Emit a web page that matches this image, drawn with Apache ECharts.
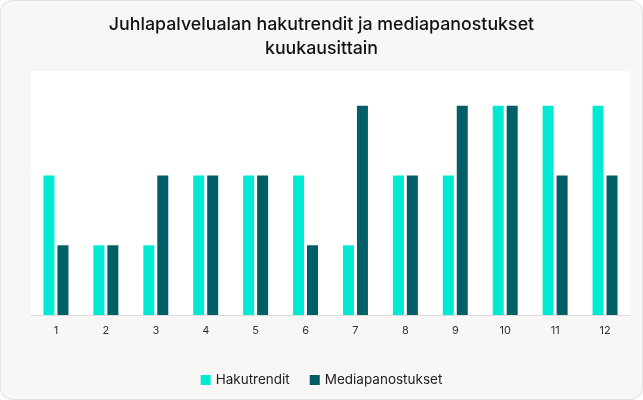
<!DOCTYPE html>
<html>
<head>
<meta charset="utf-8">
<script src="https://cdn.jsdelivr.net/npm/echarts@6/dist/echarts.min.js"></script>
<style>
  html, body { margin: 0; padding: 0; background: #fff; }
  #card {
    position: absolute; left: 0; top: 0;
    width: 641px; height: 398px;
    border: 1px solid #e2e2e0; border-radius: 12px;
    background: #f8f7f5; overflow: hidden;
  }
  #chart { width: 641px; height: 398px; }
</style>
</head>
<body>
<div id="card"><div id="chart"></div></div>
<script>
// kuukaudet ja sarjat
const months = ['1', '2', '3', '4', '5', '6', '7', '8', '9', '10', '11', '12'];
const hakutrendit = [2, 1, 1, 2, 2, 2, 1, 2, 2, 3, 3, 3];
const mediapanostukset = [1, 1, 2, 2, 2, 1, 3, 2, 3, 3, 2, 2];

const chart = echarts.init(document.getElementById('chart'), null, { renderer: 'canvas' });
chart.setOption({
  animation: false,
  textStyle: { fontFamily: 'Inter, sans-serif' },
  title: {
    text: 'Juhlapalvelualan hakutrendit ja mediapanostukset\nkuukausittain',
    left: 'center',
    top: 7,
    textStyle: { fontSize: 17.8, fontWeight: 500, color: '#111', lineHeight: 24 }
  },
  legend: {
    data: ['Hakutrendit', 'Mediapanostukset'],
    bottom: 7,
    left: 'center',
    itemWidth: 10,
    itemHeight: 10,
    itemGap: 20,
    icon: 'rect',
    textStyle: { fontSize: 13.5, color: '#222' }
  },
  grid: {
    left: 30, right: 12, top: 70, bottom: 84,
    show: true, backgroundColor: '#ffffff', borderWidth: 0
  },
  xAxis: {
    type: 'category',
    data: months,
    axisTick: { show: false },
    axisLine: { lineStyle: { color: '#dcdcdc' } },
    axisLabel: { fontSize: 11, color: '#333', margin: 10 }
  },
  yAxis: {
    type: 'value',
    min: 0,
    max: 3.5,
    show: false,
    splitLine: { show: false }
  },
  series: [
    {
      name: 'Hakutrendit',
      type: 'bar',
      data: hakutrendit,
      barWidth: 11,
      barGap: '27%',
      itemStyle: { color: '#00ead3' }
    },
    {
      name: 'Mediapanostukset',
      type: 'bar',
      data: mediapanostukset,
      barWidth: 11,
      itemStyle: { color: '#005f66' }
    }
  ]
});
</script>
</body>
</html>
